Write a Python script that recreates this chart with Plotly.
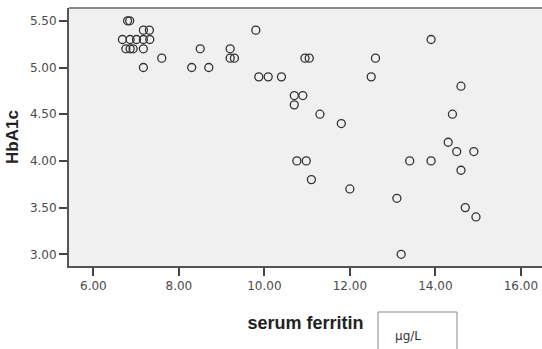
import plotly.graph_objects as go

serum_ferritin = [
    6.80, 6.85,
    7.17, 7.31,
    6.68, 6.86, 7.01, 7.17, 7.32,
    6.76, 6.86, 6.93, 7.17,
    7.17, 7.60,
    8.30, 8.50, 8.70,
    9.20, 9.20, 9.30, 9.80,
    9.87, 10.09, 10.40,
    10.95, 11.05,
    10.70, 10.90, 10.70,
    11.30, 11.80,
    10.76, 10.98, 11.10, 12.00,
    12.50, 12.60, 13.90,
    14.60, 14.40, 14.30, 14.50, 14.90, 13.40, 13.90, 14.60,
    13.10, 14.70, 14.95, 13.20,
]
hba1c = [
    5.50, 5.50,
    5.40, 5.40,
    5.30, 5.30, 5.30, 5.30, 5.30,
    5.20, 5.20, 5.20, 5.20,
    5.00, 5.10,
    5.00, 5.20, 5.00,
    5.20, 5.10, 5.10, 5.40,
    4.90, 4.90, 4.90,
    5.10, 5.10,
    4.70, 4.70, 4.60,
    4.50, 4.40,
    4.00, 4.00, 3.80, 3.70,
    4.90, 5.10, 5.30,
    4.80, 4.50, 4.20, 4.10, 4.10, 4.00, 4.00, 3.90,
    3.60, 3.50, 3.40, 3.00,
]
x_ticks = [6, 8, 10, 12, 14, 16]
y_ticks = [3.0, 3.5, 4.0, 4.5, 5.0, 5.5]

fig = go.Figure()
fig.add_trace(go.Scatter(
    x=serum_ferritin, y=hba1c, mode="markers",
    marker=dict(symbol="circle-open", size=8, color="#333333",
                line=dict(width=1.3, color="#333333")),
    showlegend=False, hoverinfo="skip",
))

tickfont = dict(family="DejaVu Sans", size=12, color="#4a4a4a")
fig.update_layout(
    width=542, height=349,
    margin=dict(l=69, r=0, t=8, b=83),
    paper_bgcolor="white",
    plot_bgcolor="#F0F0F0",
    xaxis=dict(
        range=[5.43, 16.495], tickvals=x_ticks, tickformat=".2f",
        showgrid=False, zeroline=False,
        showline=True, linecolor="#555555", linewidth=2,
        ticks="outside", ticklen=8, tickwidth=1.5, tickcolor="#444444",
        tickfont=tickfont,
        title=dict(text="<b>serum ferritin</b>",
                   font=dict(family="Liberation Sans", size=18, color="#222222"),
                   standoff=24),
    ),
    yaxis=dict(
        range=[2.875, 5.637], tickvals=y_ticks, tickformat=".2f",
        showgrid=False, zeroline=False,
        showline=True, linecolor="#555555", linewidth=2,
        ticks="outside", ticklen=8, tickwidth=1.5, tickcolor="#444444",
        tickfont=tickfont,
        title=dict(text="<b>HbA1c</b>",
                   font=dict(family="Liberation Sans", size=17, color="#222222"),
                   standoff=7),
    ),
    shapes=[
        dict(type="line", xref="paper", yref="paper", x0=0, x1=1, y0=1, y1=1,
             line=dict(color="#8a8a8a", width=2)),
        dict(type="rect", xref="paper", yref="paper",
             x0=(378 - 69) / 473, x1=(457 - 69) / 473,
             y0=(266 - 312) / 258, y1=(266 - 352) / 258,
             line=dict(color="#888888", width=1), fillcolor="white"),
    ],
    annotations=[
        dict(text="µg/L", xref="paper", yref="paper",
             x=(393 - 69) / 473, y=(266 - 336) / 258,
             xanchor="left", yanchor="middle",
             showarrow=False, font=dict(family="DejaVu Sans", size=12, color="#333333")),
    ],
)
fig.write_html("out.html")
